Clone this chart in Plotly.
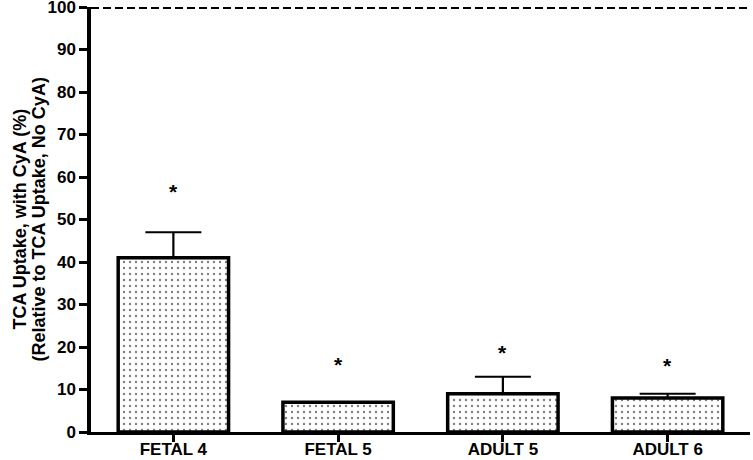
import plotly.graph_objects as go

# data
groups = ["FETAL 4", "FETAL 5", "ADULT 5", "ADULT 6"]
uptake = [41, 7, 9, 8]
sem = [6, 0, 4, 1]
star_y = [56.5, 15.8, 18.6, 15.6]
yticks = [0, 10, 20, 30, 40, 50, 60, 70, 80, 90, 100]
ref_level = 100

fnt = "Liberation Sans, Arial, sans-serif"
xpos = list(range(len(groups)))
xlim = [-0.5, len(groups) - 0.5]

bars = go.Bar(
    x=xpos,
    y=uptake,
    width=0.67,
    marker=dict(
        color="white",
        line=dict(color="black", width=3.5),
        pattern=dict(shape=".", fgcolor="black", bgcolor="white",
                     size=6, solidity=0.12),
    ),
    error_y=dict(type="data", array=sem, arrayminus=[0] * len(sem),
                 symmetric=False, color="black", thickness=2.2, width=28),
    showlegend=False,
)

# dashed reference line at 100 %, not clipped at the top edge
ref = go.Scatter(
    x=xlim, y=[ref_level, ref_level],
    mode="lines", line=dict(color="black", width=4, dash="8px,4px"),
    cliponaxis=False, showlegend=False, hoverinfo="skip",
)

fig = go.Figure(data=[bars, ref])

# significance stars
for xp, sy in zip(xpos, star_y):
    fig.add_annotation(x=xp, y=sy, text="<b>*</b>", showarrow=False,
                       font=dict(family=fnt, size=21, color="black"),
                       yanchor="middle")

# y title as two rotated lines
ytitle = ["TCA Uptake, with CyA (%)", "(Relative to TCA Uptake, No CyA)"]
for line, xs in zip(ytitle, [19, 38]):
    fig.add_annotation(xref="paper", yref="paper", x=0, y=0.5,
                       xshift=xs - 91, text="<b>" + line + "</b>",
                       textangle=-90, showarrow=False,
                       xanchor="center", yanchor="middle",
                       font=dict(family=fnt, size=18, color="black"))

fig.update_layout(
    width=753, height=460,
    margin=dict(l=91, r=3, t=7, b=28),
    plot_bgcolor="white", paper_bgcolor="white",
    font=dict(family=fnt, color="black"),
)
fig.update_xaxes(
    tickvals=xpos, ticktext=groups,
    showline=True, linecolor="black", linewidth=3,
    ticks="outside", ticklen=7, tickwidth=3, tickcolor="black",
    tickfont=dict(family=fnt, size=17, color="black", weight="bold"),
    ticklabelstandoff=-7,
    range=xlim, showgrid=False, zeroline=False, automargin=False,
)
fig.update_yaxes(
    range=[0, 100], tickvals=yticks,
    showline=True, linecolor="black", linewidth=3.5,
    ticks="outside", ticklen=8, tickwidth=3, tickcolor="black",
    tickfont=dict(family=fnt, size=17, color="black", weight="bold"),
    ticklabeloverflow="allow",
    showgrid=False, zeroline=False, automargin=False,
)

fig.write_html("out.html", config={"displayModeBar": False},
               post_script="document.body.style.margin='0px';")
